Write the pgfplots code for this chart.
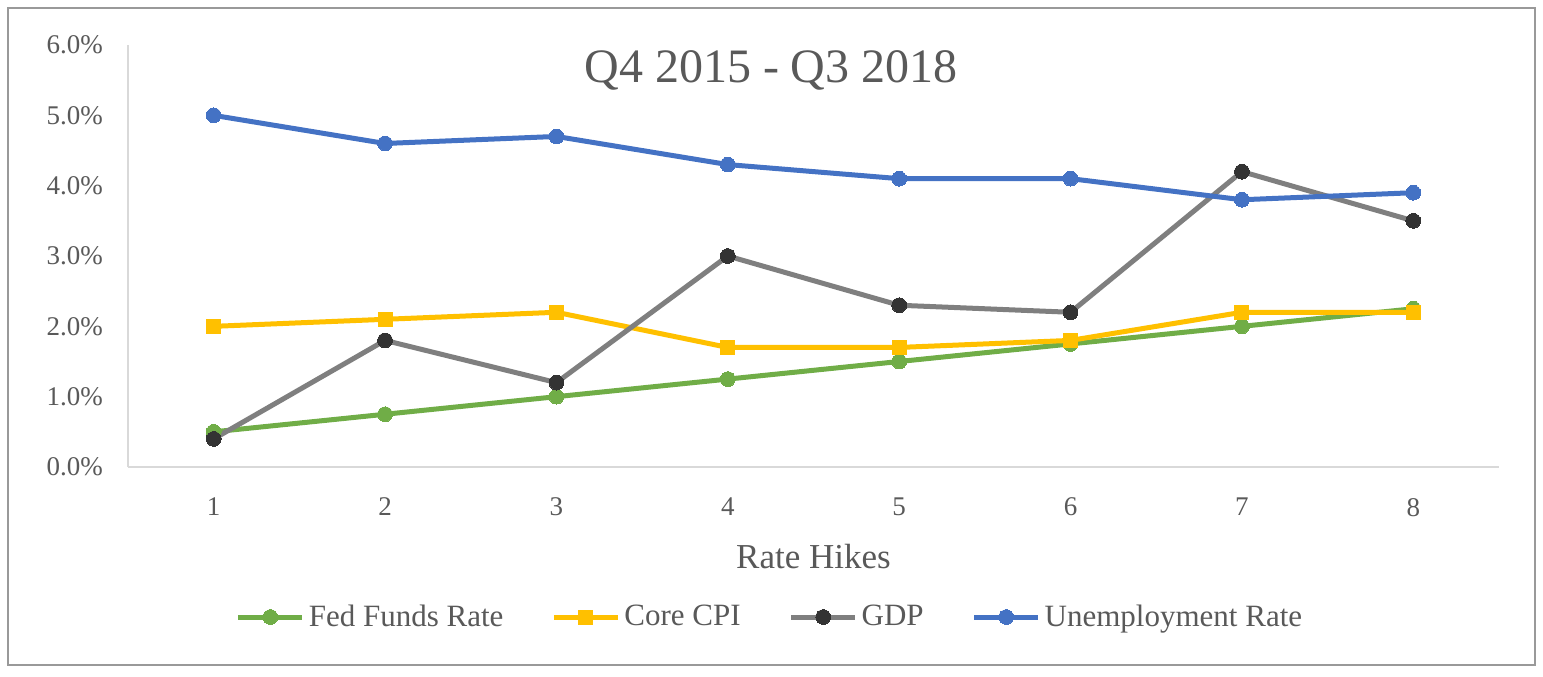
\documentclass[border=0pt]{standalone}
\usepackage{fontspec}
\setmainfont{Liberation Serif}
\usepackage{pgfplots}
\pgfplotsset{compat=1.18}
\definecolor{cgreen}{HTML}{70AD47}
\definecolor{corange}{HTML}{FFC000}
\definecolor{cgray}{HTML}{7F7F7F}
\definecolor{cdark}{HTML}{333333}
\definecolor{cblue}{HTML}{4472C4}
\definecolor{ctext}{HTML}{595959}
\definecolor{caxis}{HTML}{D9D9D9}
\begin{document}
\begin{tikzpicture}
\useasboundingbox (-64pt,-104.5pt) rectangle (707.5pt,233.5pt);
\draw[color=black!40, line width=1pt] (-60pt,-99pt) rectangle (703.5pt,229.5pt);
\begin{axis}[
  at={(0pt,0pt)}, anchor=south west,
  scale only axis, width=685.5pt, height=211pt,
  xmin=0.5, xmax=8.5, ymin=0, ymax=6,
  xtick={1,...,8}, ytick={0,1,...,6},
  axis x line*=bottom, axis y line*=left,
  axis line style={color=caxis, line width=0.8pt, -},
  x axis line style={-}, y axis line style={-},
  major tick length=0pt,
  tick style={draw=none},
  /pgf/number format/assume math mode=true,
  yticklabel={\pgfmathprintnumber[fixed,fixed zerofill,precision=1]{\tick}\%},
  ticklabel style={font=\fontsize{13.5}{15}\selectfont, text=ctext},
  yticklabel style={xshift=-9pt},
  xticklabel style={yshift=-12pt},
  xlabel={Rate Hikes},
  xlabel style={font=\fontsize{17.5}{19}\selectfont, text=ctext, at={(axis description cs:0.5,0)}, anchor=center, yshift=-45pt},
  legend columns=4,
  legend style={draw=none, fill=none, font=\fontsize{15.5}{17}\selectfont, text=ctext,
    at={(321.5pt,-75pt)}, anchor=center, /tikz/every even column/.append style={column sep=22pt}},
  legend cell align=left,
  legend image code/.code={
    \draw[#1, mark repeat=2, mark phase=2] plot coordinates {(0pt,0pt) (16pt,0pt) (32pt,0pt)};
  },
  clip=false,
]
\addplot[color=cgreen, line width=2.5pt, mark=*, mark size=3.7pt, mark options={fill=cgreen, draw=cgreen, line width=0pt}]
  coordinates {(1,0.5) (2,0.75) (3,1.0) (4,1.25) (5,1.5) (6,1.75) (7,2.0) (8,2.25)};
\addlegendentry{Fed Funds Rate}
\addplot[color=corange, line width=2.5pt, mark=square*, mark size=3.5pt, mark options={fill=corange, draw=corange, line width=0pt}]
  coordinates {(1,2.0) (2,2.1) (3,2.2) (4,1.7) (5,1.7) (6,1.8) (7,2.2) (8,2.2)};
\addlegendentry{Core CPI}
\addplot[color=cgray, line width=2.5pt, mark=*, mark size=3.7pt, mark options={fill=cdark, draw=cdark, line width=0pt}]
  coordinates {(1,0.4) (2,1.8) (3,1.2) (4,3.0) (5,2.3) (6,2.2) (7,4.2) (8,3.5)};
\addlegendentry{GDP}
\addplot[color=cblue, line width=2.5pt, mark=*, mark size=3.7pt, mark options={fill=cblue, draw=cblue, line width=0pt}]
  coordinates {(1,5.0) (2,4.6) (3,4.7) (4,4.3) (5,4.1) (6,4.1) (7,3.8) (8,3.9)};
\addlegendentry{Unemployment Rate}
\node[font=\fontsize{24}{28}\selectfont, text=ctext] at (321.5pt,198.5pt) {Q4 2015 - Q3 2018};
\end{axis}
\end{tikzpicture}
\end{document}
